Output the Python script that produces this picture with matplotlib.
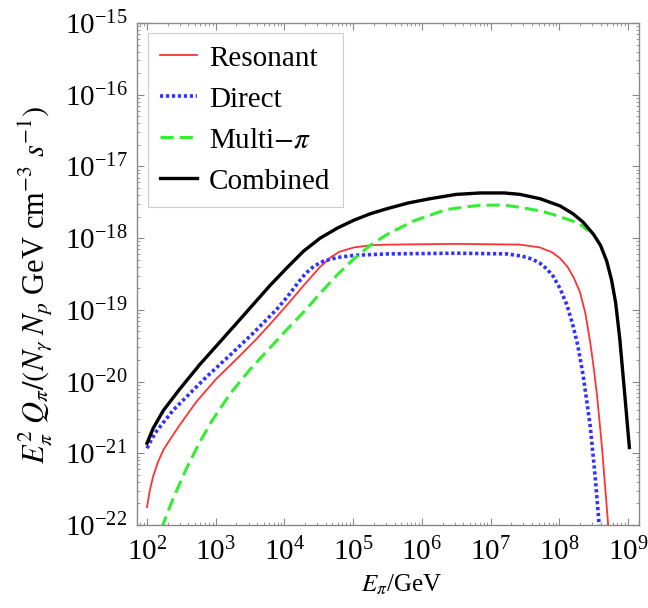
import numpy as np
import matplotlib
matplotlib.use("Agg")
import matplotlib.pyplot as plt
from matplotlib.ticker import LogLocator

plt.rcParams["font.family"] = ["Liberation Serif", "DejaVu Serif"]
plt.rcParams["mathtext.fontset"] = "stix"

# ── data (log10 of E_pi/GeV and of E^2 Q) ─────────────────────────────
res_lx = [2.00, 2.04, 2.09, 2.16, 2.24, 2.34, 2.48, 2.72, 3.01, 3.31, 3.60, 3.79,
          4.04, 4.28, 4.52, 4.67, 4.80, 5.01, 5.25, 5.49, 6.50, 7.43, 7.72, 7.90,
          8.01, 8.12, 8.21, 8.30, 8.38, 8.45, 8.50, 8.55, 8.62, 8.67, 8.72]
res_ly = [-21.75, -21.52, -21.32, -21.12, -20.95, -20.80, -20.60, -20.28, -19.96,
          -19.68, -19.40, -19.20, -18.93, -18.66, -18.40, -18.27, -18.19, -18.13,
          -18.10, -18.09, -18.08, -18.09, -18.13, -18.20, -18.28, -18.40, -18.55,
          -18.75, -19.05, -19.45, -19.80, -20.20, -20.90, -21.50, -22.10]

dir_lx = [2.00, 2.07, 2.14, 2.38, 2.63, 2.87, 3.21, 3.55, 3.89, 4.04, 4.20, 4.30,
          4.43, 4.57, 4.77, 5.01, 5.49, 6.50, 7.24, 7.45, 7.60, 7.72, 7.82, 7.91,
          8.01, 8.11, 8.20, 8.27, 8.35, 8.45, 8.52, 8.585]
dir_ly = [-20.93, -20.80, -20.69, -20.40, -20.16, -19.93, -19.63, -19.32, -18.99,
          -18.82, -18.62, -18.50, -18.39, -18.32, -18.27, -18.24, -18.22, -18.21,
          -18.22, -18.25, -18.29, -18.35, -18.43, -18.53, -18.70, -18.93, -19.22,
          -19.50, -19.93, -20.62, -21.30, -22.05]

mul_lx = [2.21, 2.38, 2.58, 2.77, 2.95, 3.21, 3.50, 3.79, 4.04, 4.28, 4.52, 4.77,
          5.01, 5.25, 5.49, 5.88, 6.36, 6.85, 7.20, 7.43, 7.72, 7.91, 8.10, 8.25,
          8.35, 8.42]
mul_ly = [-22.05, -21.63, -21.20, -20.84, -20.54, -20.17, -19.83, -19.53, -19.27,
          -19.03, -18.77, -18.51, -18.29, -18.10, -17.95, -17.76, -17.60, -17.54,
          -17.54, -17.57, -17.62, -17.67, -17.73, -17.78, -17.84, -17.90]

com_lx = [2.00, 2.09, 2.24, 2.48, 2.77, 3.05, 3.31, 3.55, 3.79, 4.04, 4.28, 4.52,
          4.77, 5.01, 5.25, 5.49, 5.80, 6.12, 6.50, 6.85, 7.20, 7.43, 7.72, 8.01,
          8.20, 8.35, 8.50, 8.60, 8.69, 8.76, 8.82, 8.88, 8.95, 9.02]
com_ly = [-20.86, -20.65, -20.40, -20.10, -19.76, -19.46, -19.18, -18.92, -18.66,
          -18.41, -18.18, -18.00, -17.86, -17.75, -17.66, -17.59, -17.51, -17.45,
          -17.39, -17.37, -17.37, -17.39, -17.45, -17.55, -17.66, -17.78, -17.95,
          -18.10, -18.32, -18.58, -18.90, -19.40, -20.15, -20.92]


def lin(a):
    return 10.0 ** np.asarray(a)


fig = plt.figure(figsize=(6.48, 6.08), dpi=100)
ax = fig.add_axes([137 / 648, 1 - 525 / 608, 502 / 648, 502 / 608])

ax.plot(lin(res_lx), lin(res_ly), color="#ff3333", lw=1.3, label="Resonant")
ax.plot(lin(dir_lx), lin(dir_ly), color="#3333ff", lw=2.6,
        linestyle=(0, (0.9, 0.75)), label="Direct")
ax.plot(lin(mul_lx), lin(mul_ly), color="#33ee33", lw=2.2,
        linestyle=(0, (4.3, 2.0)), label="Multi$-\\pi$")
ax.plot(lin(com_lx), lin(com_ly), color="black", lw=2.4, label="Combined")

ax.set_xscale("log")
ax.set_yscale("log")
ax.set_xlim(10 ** (2 - 10 / 68.7), 10 ** (9 + 11 / 68.7))
ax.set_ylim(1e-22, 1e-15)

ax.xaxis.set_major_locator(LogLocator(base=10, numticks=20))
ax.yaxis.set_major_locator(LogLocator(base=10, numticks=20))
ax.xaxis.set_minor_locator(LogLocator(base=10, subs=np.arange(2, 10), numticks=20))
ax.yaxis.set_minor_locator(LogLocator(base=10, subs=np.arange(2, 10), numticks=20))

for s in ax.spines.values():
    s.set_color("#888888")
    s.set_linewidth(1.0)
ax.tick_params(which="both", direction="in", top=True, right=True,
               color="#888888", labelsize=21)
ax.tick_params(which="major", length=5, width=0.8)
ax.tick_params(axis="y", which="major", pad=7)
ax.tick_params(axis="x", which="major", pad=9)
ax.tick_params(which="minor", length=2.5, width=0.6)

ax.set_xlabel("$E_{\\pi}$/GeV", fontsize=18)
ax.xaxis.set_label_coords(0.526, -0.095)
ax.set_ylabel("$E_{\\pi}^{2}\\;Q_{\\pi}/(N_{\\gamma}\\;N_{p}$ GeV cm$^{-3}$ $s^{-1})$",
              fontsize=22)
ax.yaxis.set_label_coords(-0.166, 0.478)

leg = ax.legend(loc="upper left", bbox_to_anchor=(11 / 502, 492 / 502),
                borderaxespad=0, fontsize=21, handlelength=1.25,
                handletextpad=0.42, labelspacing=0.5, fancybox=False,
                framealpha=1, borderpad=0.42)
leg.get_frame().set_edgecolor("#cccccc")
leg.get_frame().set_linewidth(0.8)

fig.savefig("out.png", dpi=100)
